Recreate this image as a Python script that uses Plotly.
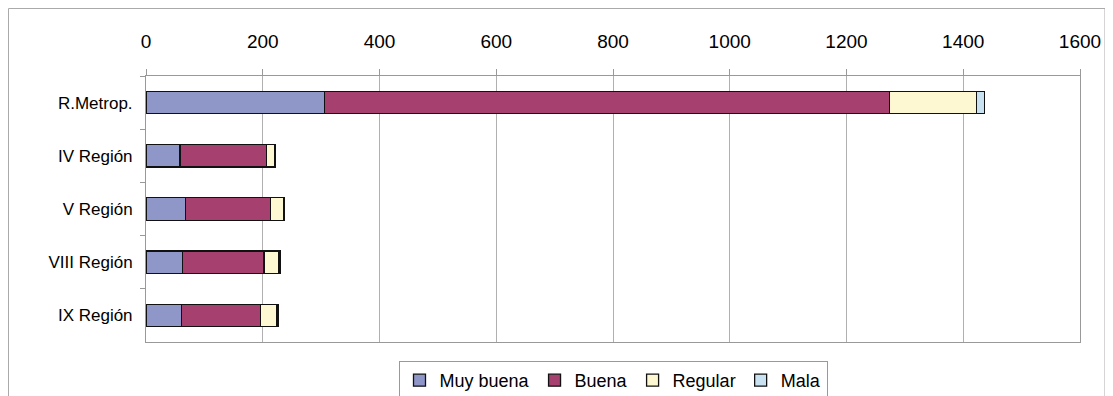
import plotly.graph_objects as go

categories = ["R.Metrop.", "IV Región", "V Región", "VIII Región", "IX Región"]
muy_buena = [306, 58, 68, 62, 61]
buena = [968, 149, 145, 140, 135]
regular = [149, 13, 22, 26, 28]
mala = [13, 1, 2, 2, 2]
series_names = ["Muy buena", "Buena", "Regular", "Mala"]
colors = ["#8f96c8", "#a6406e", "#fdf8d2", "#c8e2f2"]
x_ticks = [0, 200, 400, 600, 800, 1000, 1200, 1400, 1600]

fig = go.Figure()
for name, vals, col in zip(series_names, [muy_buena, buena, regular, mala], colors):
    fig.add_trace(go.Bar(
        y=categories, x=vals, name=name, orientation="h",
        marker=dict(color=col, line=dict(color="#111111", width=1.3)),
    ))

W, H = 1113, 396
L, T = 138, 68
pw, ph = 934, 266
R = W - L - pw
B = H - T - ph

def px_x(p):
    return (p - L) / pw

def px_y(p):
    return (T + ph - p) / ph

fig.update_layout(
    width=W, height=H, barmode="stack", bargap=0.58,
    margin=dict(l=L, r=R, t=T, b=B, autoexpand=False),
    paper_bgcolor="white", plot_bgcolor="white",
    font=dict(family="Liberation Sans, Arial, sans-serif", size=17, color="black"),
    legend=dict(orientation="h", x=px_x(605), xanchor="center", y=px_y(353),
                yanchor="top", bordercolor="#999999", borderwidth=1,
                font=dict(size=18), traceorder="normal", itemwidth=30,
                tracegroupgap=0),
    showlegend=True,
    xaxis=dict(side="top", range=[0, 1600], tickvals=x_ticks, showgrid=True,
               gridcolor="#b0b0b0", gridwidth=1, zeroline=False,
               showline=True, linecolor="#999999", mirror=True,
               ticks="outside", ticklen=6, tickcolor="#999999",
               ticklabelstandoff=13,
               tickfont=dict(size=19), automargin=False),
    yaxis=dict(categoryorder="array", categoryarray=categories, autorange="reversed",
               showline=True, linecolor="#999999", mirror=True,
               ticks="outside", ticklen=5, tickcolor="#999999", tickson="boundaries",
               ticklabelstandoff=9,
               tickfont=dict(size=17), automargin=False),
)

# outer chart frame
fig.add_shape(type="rect", xref="paper", yref="paper",
              x0=px_x(0.5), x1=px_x(1097),
              y0=px_y(420), y1=px_y(0.5),
              line=dict(color="#aaaaaa", width=1), layer="below")

fig.write_html("out.html")
